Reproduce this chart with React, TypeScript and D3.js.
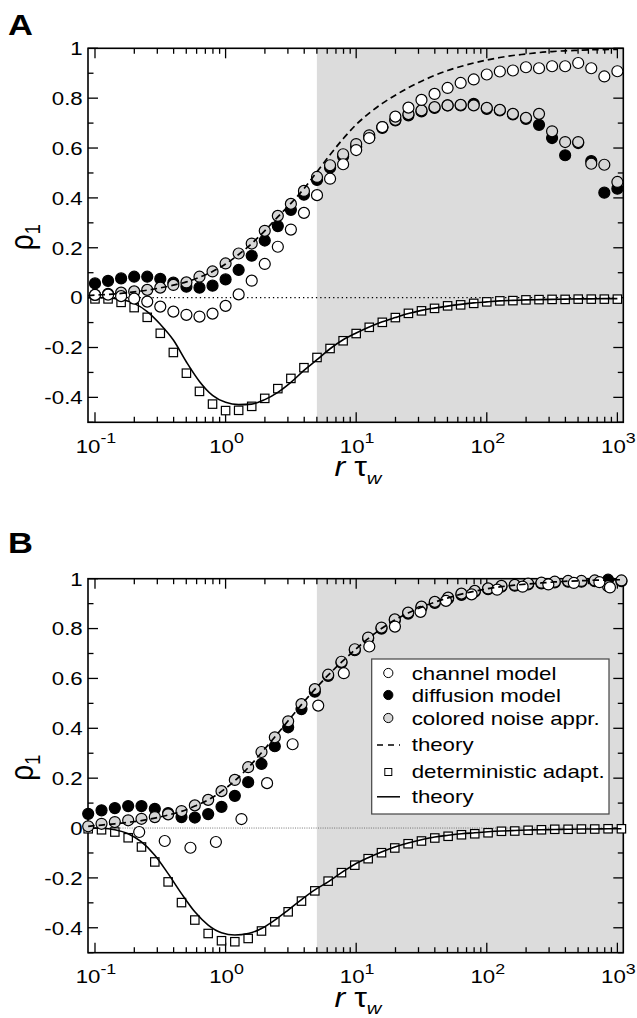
import React from "react";
import * as d3 from "d3";

// ---------- data ----------
const xA = [0.1, 0.1259, 0.1585, 0.1995, 0.2512, 0.3162, 0.3981, 0.5012, 0.631, 0.7943, 1, 1.259, 1.585, 1.995, 2.512, 3.162, 3.981, 5.012, 6.31, 7.943, 10, 12.59, 15.85, 19.95, 25.12, 31.62, 39.81, 50.12, 63.1, 79.43, 100, 125.9, 158.5, 199.5, 251.2, 316.2, 398.1, 501.2, 631, 794.3, 1000];
const channelA = [0.011, 0.012, 0.006, -0.004, -0.016, -0.036, -0.056, -0.069, -0.076, -0.064, -0.033, 0.013, 0.068, 0.135, 0.204, 0.273, 0.34, 0.411, 0.477, 0.535, 0.592, 0.64, 0.684, 0.726, 0.762, 0.793, 0.817, 0.841, 0.861, 0.875, 0.895, 0.907, 0.911, 0.924, 0.92, 0.928, 0.928, 0.941, 0.92, 0.887, 0.908];
const diffusionA = [0.057, 0.067, 0.077, 0.084, 0.084, 0.075, 0.06, 0.044, 0.04, 0.048, 0.073, 0.111, 0.168, 0.229, 0.287, 0.352, 0.413, 0.472, 0.521, 0.567, 0.605, 0.642, 0.681, 0.711, 0.731, 0.747, 0.761, 0.771, 0.771, 0.777, 0.757, 0.751, 0.735, 0.717, 0.693, 0.64, 0.571, 0.62, 0.548, 0.421, 0.437];
const coloredA = [0.011, 0.015, 0.02, 0.025, 0.031, 0.04, 0.051, 0.061, 0.084, 0.105, 0.137, 0.177, 0.217, 0.268, 0.328, 0.376, 0.428, 0.484, 0.531, 0.575, 0.616, 0.651, 0.684, 0.713, 0.736, 0.751, 0.764, 0.771, 0.773, 0.771, 0.761, 0.753, 0.737, 0.721, 0.737, 0.667, 0.624, 0.624, 0.537, 0.533, 0.464];
const detA = [-0.005, -0.005, -0.019, -0.04, -0.079, -0.143, -0.22, -0.303, -0.376, -0.427, -0.453, -0.452, -0.436, -0.404, -0.365, -0.324, -0.281, -0.24, -0.204, -0.173, -0.144, -0.119, -0.099, -0.08, -0.063, -0.053, -0.043, -0.033, -0.029, -0.023, -0.017, -0.013, -0.012, -0.009, -0.008, -0.007, -0.007, -0.006, -0.006, -0.006, -0.006];
const theoryXA = [0.0884, 0.1, 0.1259, 0.1585, 0.1995, 0.2512, 0.3162, 0.3981, 0.5012, 0.631, 0.7943, 1, 1.259, 1.585, 1.995, 2.512, 3.162, 3.981, 5.012, 6.31, 7.943, 10, 12.59, 15.85, 19.95, 25.12, 31.62, 39.81, 50.12, 63.1, 79.43, 100, 125.9, 158.5, 199.5, 251.2, 316.2, 398.1, 501.2, 631, 794.3, 1000];
const dashedA = [0.008, 0.01, 0.013, 0.017, 0.023, 0.03, 0.039, 0.05, 0.063, 0.082, 0.105, 0.135, 0.173, 0.217, 0.268, 0.324, 0.378, 0.437, 0.505, 0.573, 0.637, 0.694, 0.74, 0.779, 0.812, 0.842, 0.868, 0.891, 0.911, 0.927, 0.941, 0.953, 0.963, 0.971, 0.977, 0.983, 0.987, 0.99, 0.992, 0.994, 0.995, 0.996];
const solidA = [0, 0, -0.001, -0.008, -0.023, -0.056, -0.107, -0.17, -0.258, -0.336, -0.392, -0.42, -0.429, -0.427, -0.409, -0.38, -0.34, -0.292, -0.249, -0.205, -0.169, -0.142, -0.118, -0.097, -0.08, -0.064, -0.051, -0.042, -0.034, -0.027, -0.021, -0.017, -0.013, -0.011, -0.009, -0.008, -0.007, -0.006, -0.005, -0.005, -0.004, -0.004];

const xB = [0.0887, 0.1122, 0.1419, 0.1795, 0.227, 0.2871, 0.3631, 0.4596, 0.5814, 0.7356, 0.9305, 1.177, 1.489, 1.883, 2.382, 3.014, 3.812, 4.823, 6.1, 7.716, 9.759, 12.35, 15.62, 19.75, 24.99, 31.61, 39.99, 50.58, 63.97, 80.91, 102.3, 129.5, 163.8, 207.2, 262.1, 331.5, 419.4, 530.5, 671, 848.8, 1074];
const diffusionB = [0.057, 0.071, 0.08, 0.088, 0.088, 0.077, 0.06, 0.044, 0.042, 0.056, 0.085, 0.129, 0.184, 0.257, 0.328, 0.404, 0.477, 0.547, 0.61, 0.663, 0.713, 0.76, 0.8, 0.833, 0.86, 0.884, 0.903, 0.92, 0.935, 0.948, 0.958, 0.968, 0.972, 0.977, 0.981, 0.985, 0.988, 0.988, 0.99, 0.996, 0.99];
const coloredB = [0.007, 0.017, 0.024, 0.031, 0.037, 0.044, 0.055, 0.068, 0.091, 0.113, 0.148, 0.193, 0.244, 0.305, 0.364, 0.428, 0.497, 0.557, 0.615, 0.667, 0.717, 0.764, 0.804, 0.837, 0.864, 0.888, 0.907, 0.924, 0.94, 0.951, 0.961, 0.971, 0.975, 0.98, 0.984, 0.988, 0.991, 0.991, 0.993, 0.97, 0.993];
const detB = [-0.003, -0.007, -0.016, -0.039, -0.076, -0.136, -0.216, -0.299, -0.369, -0.423, -0.452, -0.456, -0.443, -0.413, -0.376, -0.336, -0.293, -0.252, -0.213, -0.179, -0.149, -0.123, -0.099, -0.08, -0.063, -0.052, -0.04, -0.033, -0.027, -0.023, -0.019, -0.013, -0.012, -0.009, -0.007, -0.005, -0.005, -0.004, -0.004, -0.003, -0.003];
const dashedB = [0.007, 0.012, 0.017, 0.023, 0.03, 0.04, 0.052, 0.067, 0.088, 0.113, 0.147, 0.19, 0.242, 0.302, 0.365, 0.43, 0.495, 0.556, 0.613, 0.665, 0.714, 0.76, 0.8, 0.834, 0.862, 0.886, 0.906, 0.923, 0.938, 0.95, 0.96, 0.968, 0.974, 0.979, 0.983, 0.987, 0.99, 0.992, 0.994, 0.995, 0.996];
const solidB = [0, -0.001, -0.007, -0.023, -0.056, -0.109, -0.183, -0.263, -0.336, -0.389, -0.42, -0.429, -0.423, -0.403, -0.369, -0.329, -0.287, -0.248, -0.216, -0.179, -0.145, -0.119, -0.096, -0.076, -0.06, -0.047, -0.036, -0.029, -0.023, -0.019, -0.015, -0.012, -0.01, -0.008, -0.007, -0.006, -0.005, -0.004, -0.004, -0.003, -0.003];
const xChannelB = [0.218, 0.342, 0.538, 0.843, 1.323, 2.078, 3.26, 5.12, 8.04, 12.6, 19.8, 31.1, 48.7, 76.5, 120, 188, 296, 464, 728, 877];
const channelB = [-0.016, -0.052, -0.079, -0.056, 0.036, 0.18, 0.336, 0.491, 0.621, 0.728, 0.808, 0.867, 0.911, 0.937, 0.956, 0.968, 0.977, 0.983, 0.986, 0.965];

const yTickValues = [1, 0.8, 0.6, 0.4, 0.2, 0, -0.2, -0.4];
const yTickLabels = ["1", "0.8", "0.6", "0.4", "0.2", "0", "-0.2", "-0.4"];
const xTickValues = [0.1, 1, 10, 100, 1000];
const xTickExps = ["-1", "0", "1", "2", "3"];
const shadeStart = 5;
const legendLabels = ["channel model", "diffusion model", "colored noise appr.", "theory", "deterministic adapt.", "theory"];

// ---------- style ----------
const FONT = "'Liberation Sans', Arial, Helvetica, sans-serif";
const SX = 1.19;
const GRAY_FILL = "#d6d6d6";
const SHADE = "#dcdcdc";
const PLOT_H = 374;
const LEFT = 88;
const RIGHT = 623.3;

const xScale = d3.scaleLog().domain([0.0884, 1110]).range([LEFT, RIGHT]);

function SText({ x, y, anchor = "start", size = 18.7, weight = "normal", children }: any) {
  return (
    <text
      transform={`translate(${x},${y}) scale(${SX},1)`}
      textAnchor={anchor}
      fontSize={size}
      fontWeight={weight}
      fontFamily={FONT}
      fill="#000"
    >
      {children}
    </text>
  );
}

type PanelProps = {
  top: number;
  label: string;
  labelY: number;
  xs: number[];
  channelX: number[];
  channel: number[];
  diffusion: number[];
  colored: number[];
  det: number[];
  thX: number[];
  dashed: number[];
  solid: number[];
  legend: boolean;
  fineZero: boolean;
};

function Panel(p: PanelProps) {
  const y = d3.scaleLinear().domain([-0.5, 1]).range([p.top + PLOT_H, p.top]);
  const bottom = p.top + PLOT_H;
  const line = d3
    .line<number>()
    .x((_, i) => xScale(p.thX[i]))
    .y((v) => y(v))
    .curve(d3.curveMonotoneX);
  const xt = xScale.ticks().filter((t) => t >= 0.0999 && t <= 1000.1);
  const isMajor = (t: number) => Math.abs(Math.log10(t) - Math.round(Math.log10(t))) < 1e-6;
  const yt = d3.range(-5, 11).map((i) => i / 10);
  const isMajorY = (v: number) => Math.abs(v * 5 - Math.round(v * 5)) < 1e-6;
  const r = 5.5;
  const sq = 8.4;

  return (
    <g>
      <rect x={xScale(shadeStart)} y={p.top} width={RIGHT - xScale(shadeStart)} height={PLOT_H} fill={SHADE} />
      <line
        x1={LEFT}
        x2={RIGHT}
        y1={y(0)}
        y2={y(0)}
        stroke={p.fineZero ? "#555" : "#000"}
        strokeWidth={p.fineZero ? 0.8 : 1.3}
        strokeDasharray={p.fineZero ? "1 1.3" : "1.3 3"}
      />
      <rect x={LEFT} y={p.top} width={RIGHT - LEFT} height={PLOT_H} fill="none" stroke="#000" strokeWidth={1.6} />
      {xt.map((t, i) => {
        const L = isMajor(t) ? 10 : 5.5;
        const xx = xScale(t);
        return (
          <g key={"xt" + i}>
            <line x1={xx} x2={xx} y1={bottom} y2={bottom - L} stroke="#000" strokeWidth={1.3} />
            <line x1={xx} x2={xx} y1={p.top} y2={p.top + L} stroke="#000" strokeWidth={1.3} />
          </g>
        );
      })}
      {yt.map((v, i) => {
        const L = isMajorY(v) ? 10 : 5.5;
        const yy = y(v);
        return (
          <g key={"yt" + i}>
            <line x1={LEFT} x2={LEFT + L} y1={yy} y2={yy} stroke="#000" strokeWidth={1.3} />
            <line x1={RIGHT} x2={RIGHT - L} y1={yy} y2={yy} stroke="#000" strokeWidth={1.3} />
          </g>
        );
      })}
      {yTickValues.map((v, i) => (
        <SText key={"yl" + i} x={82.7} y={y(v) + 6.8} anchor="end">
          {yTickLabels[i]}
        </SText>
      ))}
      {xTickValues.map((v, i) => (
        <SText key={"xl" + i} x={xScale(v) + 1} y={bottom + 30.4} anchor="middle">
          10
          <tspan fontSize={15} dy={-9.5}>
            {xTickExps[i]}
          </tspan>
        </SText>
      ))}
      <SText x={358} y={bottom + 53.8} anchor="middle" size={27}>
        <tspan fontStyle="italic">r</tspan>
        <tspan> τ</tspan>
        <tspan fontSize={17} fontStyle="italic" dy={7.5}>
          w
        </tspan>
      </SText>
      <text
        transform={`translate(33,${p.top + PLOT_H / 2 + 2}) rotate(-90) scale(1,${SX})`}
        textAnchor="middle"
        fontSize={28}
        fontFamily={FONT}
      >
        ρ
        <tspan fontSize={18} dy={6}>
          1
        </tspan>
      </text>
      <SText x={8} y={p.labelY} size={29} weight="bold">
        {p.label}
      </SText>

      {p.det.map((v, i) => (
        <rect
          key={"sq" + i}
          x={xScale(p.xs[i]) - sq / 2}
          y={y(v) - sq / 2}
          width={sq}
          height={sq}
          fill="#fff"
          stroke="#000"
          strokeWidth={1.2}
        />
      ))}
      <path d={line(p.solid) || ""} fill="none" stroke="#000" strokeWidth={1.6} />
      {p.diffusion.map((v, i) => (
        <circle key={"df" + i} cx={xScale(p.xs[i])} cy={y(v)} r={r} fill="#000" stroke="#000" strokeWidth={1.2} />
      ))}
      {p.colored.map((v, i) => (
        <circle key={"cn" + i} cx={xScale(p.xs[i])} cy={y(v)} r={r} fill={GRAY_FILL} stroke="#000" strokeWidth={1.2} />
      ))}
      {p.channel.map((v, i) => (
        <circle key={"ch" + i} cx={xScale(p.channelX[i])} cy={y(v)} r={r} fill="#fff" stroke="#000" strokeWidth={1.2} />
      ))}
      <path d={line(p.dashed) || ""} fill="none" stroke="#000" strokeWidth={1.7} strokeDasharray="6.5 4" />

      {p.legend && (
        <g>
          <rect x={371.7} y={659} width={237.3} height={155} fill="#fff" stroke="#444" strokeWidth={1.2} />
          <circle cx={388.3} cy={673} r={4.6} fill="#fff" stroke="#000" strokeWidth={1} />
          <circle cx={388.3} cy={695} r={4.6} fill="#000" stroke="#000" strokeWidth={1} />
          <circle cx={388.3} cy={718} r={4.6} fill={GRAY_FILL} stroke="#000" strokeWidth={1} />
          <line x1={377} x2={400} y1={745} y2={745} stroke="#000" strokeWidth={1.5} strokeDasharray="6 5" />
          <rect x={384.8} y={768.5} width={7} height={7} fill="#fff" stroke="#000" strokeWidth={1} />
          <line x1={377} x2={400} y1={796.8} y2={796.8} stroke="#000" strokeWidth={1.5} />
          {legendLabels.map((t, i) => (
            <SText key={"lg" + i} x={411.7} y={[679.5, 701.5, 724.5, 751, 778, 803][i]}>
              {t}
            </SText>
          ))}
        </g>
      )}
    </g>
  );
}

export default function App() {
  return (
    <svg
      width={637}
      height={1018}
      viewBox="0 0 637 1018"
      style={{ position: "absolute", left: 0, top: 0, background: "#fff" }}
    >
      <rect x={0} y={0} width={637} height={1018} fill="#fff" />
      <Panel
        top={48.3}
        label="A"
        labelY={35}
        xs={xA}
        channelX={xA}
        channel={channelA}
        diffusion={diffusionA}
        colored={coloredA}
        det={detA}
        thX={theoryXA}
        dashed={dashedA}
        solid={solidA}
        legend={false}
        fineZero={false}
      />
      <Panel
        top={578.7}
        label="B"
        labelY={553}
        xs={xB}
        channelX={xChannelB}
        channel={channelB}
        diffusion={diffusionB}
        colored={coloredB}
        det={detB}
        thX={xB}
        dashed={dashedB}
        solid={solidB}
        legend={true}
        fineZero={true}
      />
    </svg>
  );
}
